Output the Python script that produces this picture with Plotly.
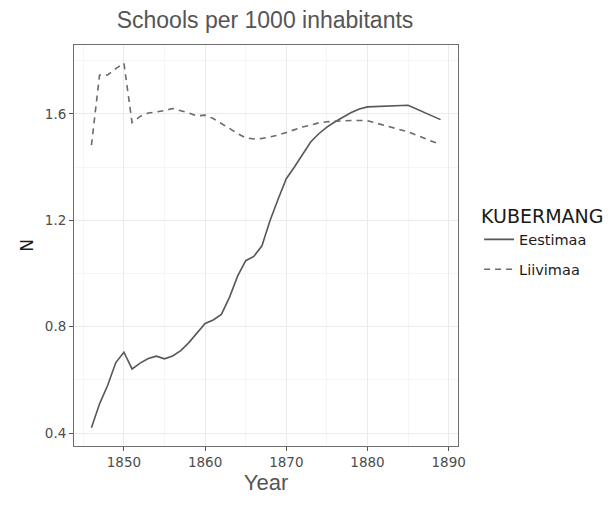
import plotly.graph_objects as go

# Years of observation
years = [1846, 1847, 1848, 1849, 1850, 1851, 1852, 1853, 1854, 1855,
         1856, 1857, 1858, 1859, 1860, 1861, 1862, 1863, 1864, 1865,
         1866, 1867, 1868, 1869, 1870, 1871, 1872, 1873, 1874, 1875,
         1876, 1877, 1878, 1879, 1880, 1885, 1889]

# Schools per 1000 inhabitants, by province
eestimaa = [0.42, 0.51, 0.58, 0.665, 0.704, 0.641, 0.663, 0.68, 0.689, 0.679,
            0.69, 0.71, 0.74, 0.775, 0.812, 0.825, 0.846, 0.91, 0.99, 1.048,
            1.064, 1.104, 1.199, 1.28, 1.356, 1.40, 1.445, 1.494, 1.525, 1.55,
            1.57, 1.589, 1.605, 1.618, 1.626, 1.632, 1.578]

liivimaa = [1.482, 1.746, 1.746, 1.77, 1.79, 1.567, 1.59, 1.603, 1.607, 1.612,
            1.62, 1.612, 1.603, 1.592, 1.595, 1.582, 1.565, 1.545, 1.525, 1.51,
            1.505, 1.507, 1.513, 1.52, 1.53, 1.54, 1.55, 1.557, 1.566, 1.57,
            1.572, 1.574, 1.575, 1.575, 1.574, 1.532, 1.484]

x_ticks = [1850, 1860, 1870, 1880, 1890]
y_ticks = [0.4, 0.8, 1.2, 1.6]

fig = go.Figure()
fig.add_trace(go.Scatter(x=years, y=eestimaa, mode="lines", name="Eestimaa",
                         legendgroup="e",
                         line=dict(color="#575757", width=1.6, dash="solid")))
fig.add_trace(go.Scatter(x=years, y=liivimaa, mode="lines", name="Liivimaa",
                         legendgroup="l",
                         line=dict(color="#6a6a6a", width=1.6, dash="6px,5px")))

x_lo, x_hi = min(years), max(years)
y_lo, y_hi = min(eestimaa + liivimaa), max(eestimaa + liivimaa)
xpad = (x_hi - x_lo) * 0.05
ypad = (y_hi - y_lo) * 0.05

axis_common = dict(
    showline=True, linecolor="#6e6e6e", linewidth=1, mirror=True,
    ticks="outside", ticklen=4, tickcolor="#555555", tickwidth=1,
    showgrid=True, gridcolor="#ebebeb", gridwidth=1,
    zeroline=False,
    tickfont=dict(family="DejaVu Sans", size=13.5, color="#4d4d4d"),
)

fig.update_xaxes(
    range=[x_lo - xpad, x_hi + xpad], tickvals=x_ticks,
    minor=dict(tickvals=[1845, 1855, 1865, 1875, 1885], showgrid=True,
               gridcolor="#f5f5f5", gridwidth=1, ticks=""),
    title=dict(text="Year", font=dict(family="Liberation Sans", size=22, color="#555555"),
               standoff=5),
    **axis_common,
)
fig.update_yaxes(
    range=[y_lo - ypad, y_hi + ypad], tickvals=y_ticks,
    ticktext=[f"{v:.1f}" for v in y_ticks],
    minor=dict(tickvals=[0.6, 1.0, 1.4, 1.8], showgrid=True,
               gridcolor="#f5f5f5", gridwidth=1, ticks=""),
    title=dict(text="N", font=dict(family="DejaVu Sans", size=17, color="#1a1a1a"),
               standoff=6),
    **axis_common,
)

fig.update_layout(
    width=612, height=517,
    margin=dict(l=74, r=154, t=45, b=71, autoexpand=False),
    paper_bgcolor="white", plot_bgcolor="white",
    title=dict(text="Schools per 1000 inhabitants", x=265 / 612, xanchor="center",
               y=1 - 20 / 517, yanchor="middle",
               font=dict(family="Liberation Sans", size=23, color="#555555")),
    legend=dict(
        title=dict(text="KUBERMANG", font=dict(family="DejaVu Sans", size=19, color="#1a1a1a")),
        font=dict(family="DejaVu Sans", size=14.5, color="#1a1a1a"),
        x=1.055, xanchor="left", y=0.508, yanchor="middle",
        bgcolor="rgba(0,0,0,0)", itemwidth=30, tracegroupgap=8,
    ),
)

fig.write_html("out.html")
